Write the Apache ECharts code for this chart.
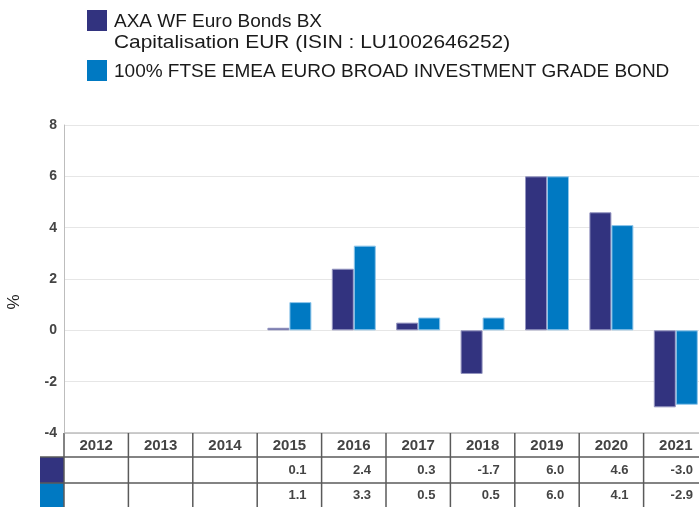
<!DOCTYPE html>
<html>
<head>
<meta charset="utf-8">
<script src="https://cdn.jsdelivr.net/npm/echarts@6/dist/echarts.min.js"></script>
<style>
    html, body { margin: 0; padding: 0; background: #fff; }
    #main { width: 699px; height: 507px; }
</style>
</head>
<body>
<div id="main"></div>
<script>
    // data
    var years = ['2012', '2013', '2014', '2015', '2016', '2017', '2018', '2019', '2020', '2021'];
    var fundValues = [null, null, null, 0.1, 2.4, 0.3, -1.7, 6.0, 4.6, -3.0];
    var indexValues = [null, null, null, 1.1, 3.3, 0.5, 0.5, 6.0, 4.1, -2.9];
    var seriesNames = ['AXA WF Euro Bonds BX\nCapitalisation EUR (ISIN : LU1002646252)', '100% FTSE EMEA EURO BROAD INVESTMENT GRADE BOND'];
    var yMin = -4, yMax = 8, yStep = 2;

    var darkBlue = '#32337f';
    var lightBlue = '#0079c2';
    var labelFont = 'Liberation Sans, Arial, sans-serif';

    var myChart = echarts.init(document.getElementById('main'));
    myChart.setOption({
        animation: false,
        grid: {
            left: 64,
            width: 644,   // the last column runs past the right edge, as in the original
            top: 125,
            bottom: 74,
            outerBoundsMode: 'none',
            containLabel: false
        },
        xAxis: {
            type: 'category',
            data: years,
            axisLine: {show: false},
            axisTick: {show: false},
            axisLabel: {show: false}
        },
        yAxis: {
            type: 'value',
            min: yMin,
            max: yMax,
            interval: yStep,
            axisLine: {show: true, lineStyle: {color: '#bdbdbd', width: 1}},
            axisTick: {show: false},
            axisLabel: {
                margin: 7,
                color: '#444',
                fontFamily: labelFont,
                fontWeight: 'bold',
                fontSize: 14
            },
            splitLine: {lineStyle: {color: '#e6e6e6', width: 1}}
        },
        series: [
            {
                name: seriesNames[0],
                type: 'bar',
                data: fundValues,
                barWidth: 22,
                barGap: '0%',
                itemStyle: {color: darkBlue, borderColor: '#9495c0', borderWidth: 1}
            },
            {
                name: seriesNames[1],
                type: 'bar',
                data: indexValues,
                barWidth: 22,
                itemStyle: {color: lightBlue, borderColor: '#8fc6ea', borderWidth: 1}
            }
        ]
    });

    // legend, "%" label and the data table under the chart
    function fmt(v) {
        return v === null ? '' : v.toFixed(1);
    }

    var els = [];
    var legendFont = '19px "Liberation Sans", Arial, sans-serif';
    var firstName = seriesNames[0].split('\n');
    els.push({type: 'rect', shape: {x: 87, y: 10, width: 20, height: 21}, style: {fill: darkBlue}});
    els.push({type: 'text', x: 114, y: 11, style: {text: firstName[0], fill: '#1a1a1a', font: legendFont, lineHeight: 21}});
    // digits are wider in the original face
    els.push({type: 'text', x: 114, y: 32, scaleX: 1.1, style: {text: firstName[1], fill: '#1a1a1a', font: legendFont, lineHeight: 21}});
    els.push({type: 'rect', shape: {x: 87, y: 60, width: 20, height: 21}, style: {fill: lightBlue}});
    els.push({type: 'text', x: 114, y: 61, style: {text: seriesNames[1], fill: '#1a1a1a', font: legendFont, lineHeight: 21}});
    els.push({type: 'text', x: 14, y: 302, rotation: Math.PI / 2, style: {text: '%', fill: '#222', font: '17px ' + labelFont, align: 'center', verticalAlign: 'middle'}});

    var tblTop = myChart.convertToPixel({yAxisIndex: 0}, yMin);
    var c0 = myChart.convertToPixel({xAxisIndex: 0}, 0);
    var c1 = myChart.convertToPixel({xAxisIndex: 0}, 1);
    var band = c1 - c0;
    var tblLeft = c0 - band / 2;
    var tblRight = tblLeft + band * years.length;
    var rowH = [24, 26, 25];
    var rowY = [tblTop, tblTop + rowH[0], tblTop + rowH[0] + rowH[1], tblTop + rowH[0] + rowH[1] + rowH[2]];
    var lineCol = '#5a5a5a';

    // colour keys
    els.push({type: 'rect', shape: {x: 40, y: rowY[1], width: tblLeft - 40, height: rowH[1]}, style: {fill: darkBlue}});
    els.push({type: 'rect', shape: {x: 40, y: rowY[2], width: tblLeft - 40, height: rowH[2]}, style: {fill: lightBlue}});

    els.push({type: 'line', shape: {x1: tblLeft, y1: tblTop, x2: tblRight, y2: tblTop}, style: {stroke: '#bdbdbd', lineWidth: 1.5}});
    for (var r = 1; r < rowY.length; r++) {
        els.push({type: 'line', shape: {x1: 40, y1: rowY[r], x2: tblRight, y2: rowY[r]}, style: {stroke: lineCol, lineWidth: 1.5}});
    }
    for (var i = 0; i <= years.length; i++) {
        var xl = tblLeft + band * i;
        els.push({type: 'line', shape: {x1: xl, y1: tblTop, x2: xl, y2: rowY[3]}, style: {stroke: lineCol, lineWidth: 1.5}});
    }
    for (var j = 0; j < years.length; j++) {
        var cx = myChart.convertToPixel({xAxisIndex: 0}, j);
        var cr = cx + band / 2 - 15;
        els.push({type: 'text', x: cx, y: rowY[0] + rowH[0] / 2 + 1, style: {text: years[j], fill: '#444', font: 'bold 15px ' + labelFont, align: 'center', verticalAlign: 'middle'}});
        els.push({type: 'text', x: cr, y: rowY[1] + rowH[1] / 2, style: {text: fmt(fundValues[j]), fill: '#444', font: 'bold 13px ' + labelFont, align: 'right', verticalAlign: 'middle'}});
        els.push({type: 'text', x: cr, y: rowY[2] + rowH[2] / 2, style: {text: fmt(indexValues[j]), fill: '#444', font: 'bold 13px ' + labelFont, align: 'right', verticalAlign: 'middle'}});
    }

    myChart.setOption({graphic: {elements: els}});
</script>
</body>
</html>
